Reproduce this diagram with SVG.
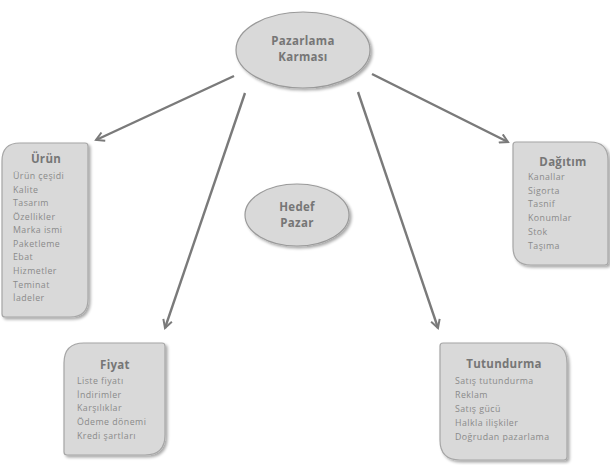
<svg xmlns="http://www.w3.org/2000/svg" width="610" height="465" viewBox="0 0 610 465">
<defs>
<style>
.box{fill:#d9d9d9;stroke:#a6a6a6;stroke-width:1.2}
.ell{fill:#d9d9d9;stroke:#9a9a9a;stroke-width:1.2}
.ttl{font-family:"Open Sans","Liberation Sans",sans-serif;font-weight:bold;font-size:11.5px;fill:#767676;text-anchor:middle;letter-spacing:0.3px}
.it{font-family:"Open Sans","Liberation Sans",sans-serif;font-size:8.8px;fill:#8a8a8a;letter-spacing:0.45px}
.con{stroke:#7a7a7a;stroke-width:2.4;fill:none;marker-end:url(#ah)}
</style>
<marker id="ah" viewBox="0 0 12 12" refX="10" refY="6" markerWidth="4.5" markerHeight="4.5" orient="auto" markerUnits="strokeWidth">
<path d="M1,1 L10,6 L1,11" fill="none" stroke="#7a7a7a" stroke-width="2.2" stroke-linejoin="miter"/>
</marker>
<filter id="sh" x="-20%" y="-20%" width="140%" height="140%">
<feGaussianBlur in="SourceAlpha" stdDeviation="1.5"/>
<feOffset dx="1.5" dy="1.5"/>
<feComponentTransfer><feFuncA type="linear" slope="0.35"/></feComponentTransfer>
<feMerge><feMergeNode/><feMergeNode in="SourceGraphic"/></feMerge>
</filter>
</defs>
<rect width="610" height="465" fill="#ffffff"/>
<g id="connectors">
<line class="con" x1="234" y1="76" x2="96" y2="140"/>
<line class="con" x1="372" y1="74" x2="508" y2="142"/>
<line class="con" x1="245" y1="93" x2="165" y2="328"/>
<line class="con" x1="358" y1="92" x2="438" y2="328"/>
</g>
<g id="pazarlama-karmasi">
<ellipse class="ell" cx="303" cy="50" rx="67" ry="38" filter="url(#sh)"/>
<text class="ttl" x="303" y="45">Pazarlama</text>
<text class="ttl" x="303" y="61">Karması</text>
</g>
<g id="hedef-pazar">
<ellipse class="ell" cx="297" cy="215" rx="52" ry="31" filter="url(#sh)"/>
<text class="ttl" x="297" y="211">Hedef</text>
<text class="ttl" x="297" y="227">Pazar</text>
</g>
<g id="urun">
<path class="box" filter="url(#sh)" d="M20,143 H85 Q88,143 88,146 V299 Q88,317 70,317 H5 Q2,317 2,314 V161 Q2,143 20,143 Z"/>
<text class="ttl" x="46" y="163">Ürün</text>
<text class="it" x="13" y="179">Ürün çeşidi</text>
<text class="it" x="13" y="193">Kalite</text>
<text class="it" x="13" y="206">Tasarım</text>
<text class="it" x="13" y="220">Özellikler</text>
<text class="it" x="13" y="233">Marka ismi</text>
<text class="it" x="13" y="247">Paketleme</text>
<text class="it" x="13" y="260">Ebat</text>
<text class="it" x="13" y="274">Hizmetler</text>
<text class="it" x="13" y="288">Teminat</text>
<text class="it" x="13" y="301">İadeler</text>
</g>
<g id="fiyat">
<path class="box" filter="url(#sh)" d="M84,343 H162 Q165,343 165,346 V435 Q165,455 145,455 H67 Q64,455 64,452 V363 Q64,343 84,343 Z"/>
<text class="ttl" x="115" y="369">Fiyat</text>
<text class="it" x="77" y="384">Liste fiyatı</text>
<text class="it" x="77" y="398">İndirimler</text>
<text class="it" x="77" y="411">Karşılıklar</text>
<text class="it" x="77" y="425">Ödeme dönemi</text>
<text class="it" x="77" y="439">Kredi şartları</text>
</g>
<g id="tutundurma">
<path class="box" filter="url(#sh)" d="M443,343 H547 Q567,343 567,363 V457 Q567,460 564,460 H460 Q440,460 440,440 V346 Q440,343 443,343 Z"/>
<text class="ttl" x="504" y="368">Tutundurma</text>
<text class="it" x="455" y="384">Satış tutundurma</text>
<text class="it" x="455" y="398">Reklam</text>
<text class="it" x="455" y="412">Satış gücü</text>
<text class="it" x="455" y="426">Halkla ilişkiler</text>
<text class="it" x="455" y="440">Doğrudan pazarlama</text>
</g>
<g id="dagitim">
<path class="box" filter="url(#sh)" d="M516,142 H590 Q608,142 608,160 V262 Q608,265 605,265 H531 Q513,265 513,247 V145 Q513,142 516,142 Z"/>
<text class="ttl" x="563" y="166">Dağıtım</text>
<text class="it" x="528" y="180">Kanallar</text>
<text class="it" x="528" y="194">Sigorta</text>
<text class="it" x="528" y="207">Tasnif</text>
<text class="it" x="528" y="221">Konumlar</text>
<text class="it" x="528" y="235">Stok</text>
<text class="it" x="528" y="249">Taşıma</text>
</g>
</svg>
